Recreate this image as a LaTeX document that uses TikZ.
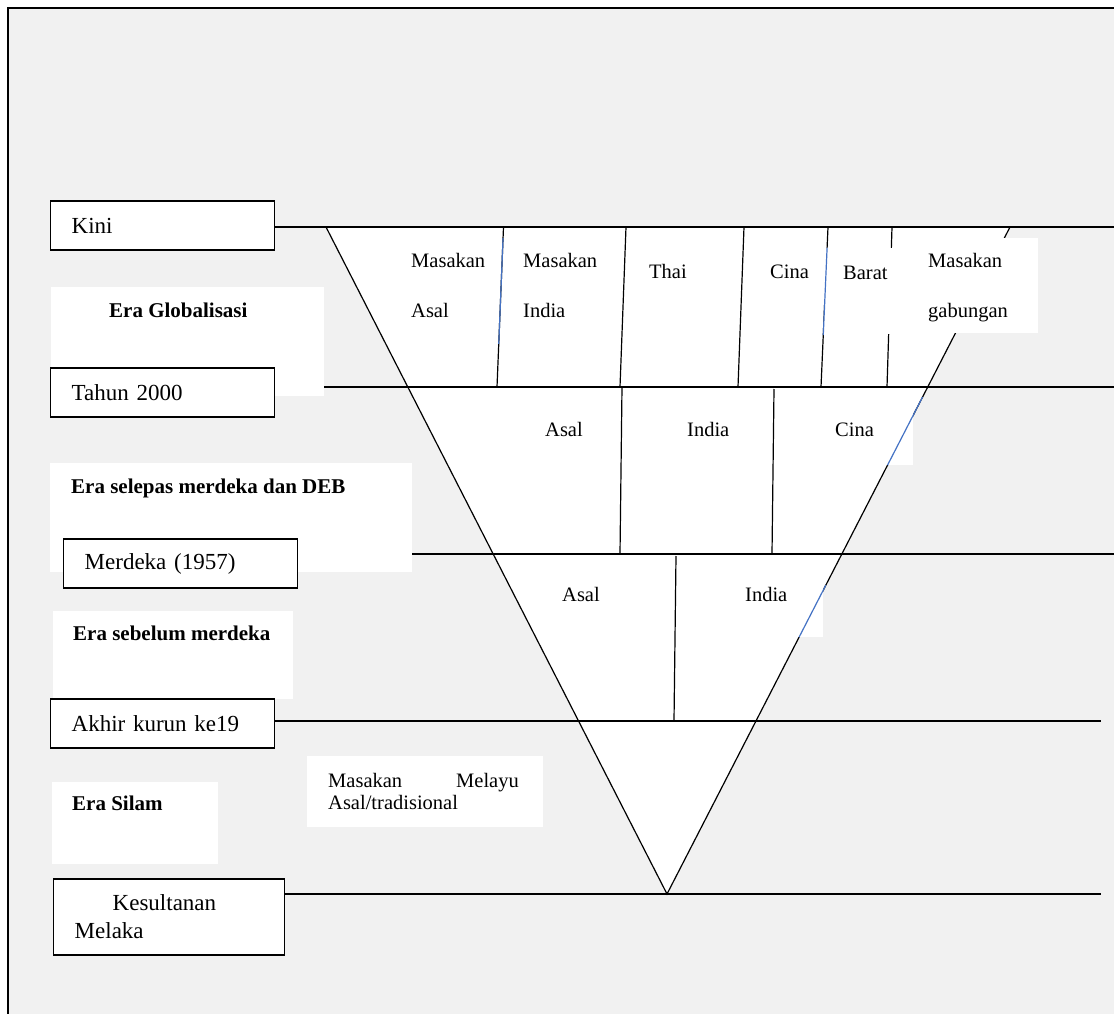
\documentclass[tikz,border=0pt]{standalone}
\usepackage{fontspec}
\setmainfont{Liberation Serif}
\usetikzlibrary{calc}
\definecolor{pagegray}{RGB}{241,241,241}
\definecolor{segblue}{RGB}{68,114,196}

\begin{document}
\begin{tikzpicture}[x=1pt, y=-1pt,
  lab/.style={draw, line width=1.4pt, fill=white, font=\fontsize{23}{28}\selectfont, align=left, inner xsep=21pt, inner ysep=0pt, minimum height=49pt, anchor=west},
  pad/.style={fill=white, inner sep=0pt, anchor=north west},
  era/.style={font=\fontsize{21}{25}\selectfont\bfseries, anchor=mid west, inner sep=0pt},
  txt/.style={font=\fontsize{20.5}{24}\selectfont, anchor=mid west, inner sep=0pt},
  hl/.style={line width=1.4pt},
  sl/.style={line width=1.2pt},
  bl/.style={line width=1.2pt, draw=segblue}]
  \useasboundingbox (0,0) rectangle (1114,1014);
  \fill[white] (0,0) rectangle (1114,1014);
  \fill[pagegray] (8,8) rectangle (1114,1014);
  \draw[line width=2pt] (8,1014) -- (8,8) -- (1114,8);
  \coordinate (tl) at (326,227);
  \coordinate (tr) at (1010,227);
  \coordinate (ap) at (667,894);
  \coordinate (y2) at (0,387);
  \coordinate (y3) at (0,554);
  \coordinate (y4) at (0,721);
  \coordinate (rx) at (1114,0);
  \coordinate (rs) at (1101,0);
  \filldraw[fill=white, sl] (tl) -- (ap) -- (tr);
  \coordinate (d1a) at (503.5,227); \coordinate (d1b) at (497,387);
  \coordinate (d2a) at (626,227);   \coordinate (d2b) at (620,387);
  \coordinate (d3a) at (744,227);   \coordinate (d3b) at (738,387);
  \coordinate (d4a) at (828,227);   \coordinate (d4b) at (821,387);
  \coordinate (d5a) at (892,227);   \coordinate (d5b) at (887,387);
  \coordinate (d6a) at (622,387);   \coordinate (d6b) at (620,554);
  \coordinate (d7a) at (774,389);   \coordinate (d7b) at (772,554);
  \coordinate (d8a) at (676,556);   \coordinate (d8b) at (674,721);
  \foreach \a/\b in {d1a/d1b, d2a/d2b, d3a/d3b, d4a/d4b, d5a/d5b, d6a/d6b, d7a/d7b, d8a/d8b}
    \draw[sl] (\a) -- (\b);
  \node[pad, minimum width=145pt, minimum height=95pt] (gabpad) at (893,238) {};
  \node[pad, minimum width=70pt, minimum height=86pt] (barpad) at (824,248) {};
  \node[pad, minimum width=73pt, minimum height=68pt] (cinapad) at (840,397) {};
  \node[pad, minimum width=33pt, minimum height=52pt] (indpad) at (790,585) {};
  \draw[bl] ($(d1a)!0.069!(d1b)$) -- ($(d1a)!0.731!(d1b)$);
  \draw[bl] ($(d4a)!0.131!(d4b)$) -- ($(d4a)!0.675!(d4b)$);
  \draw[bl] ($(tr)!0.255!(ap)$) -- ($(tr)!0.357!(ap)$);
  \draw[bl] ($(tr)!0.537!(ap)$) -- ($(tr)!0.615!(ap)$);
  \node[pad, minimum width=273pt, minimum height=109pt] (globpad) at (51,287) {};
  \node[pad, minimum width=362pt, minimum height=109pt] (selpad) at (50,463) {};
  \node[pad, minimum width=240pt, minimum height=88pt] (sebpad) at (53,611) {};
  \node[pad, minimum width=166pt, minimum height=82pt] (silpad) at (52,782) {};
  \node[pad, minimum width=236pt, minimum height=71pt] (melpad) at (307,756) {};
  \node[lab, text width=182pt] (kini) at (50,225.5) {Kini};
  \node[lab, text width=182pt] (tahun) at (50,392.5) {Tahun 2000};
  \node[lab, text width=192pt] (merdeka) at (63,563.5) {Merdeka (1957)};
  \node[lab, text width=182pt] (akhir) at (50,723.5) {Akhir kurun ke19};
  \node[lab, text width=189pt, minimum height=76pt] (kesultanan) at (53,917) {\hspace*{38pt}Kesultanan\\Melaka};
  \draw[hl] (kini.east |- tl) -- (rx |- tl);
  \draw[hl] (globpad.east |- y2) -- (rx |- y2);
  \draw[hl] (selpad.east |- y3) -- (rx |- y3);
  \draw[hl] (akhir.east |- y4) -- (rs |- y4);
  \draw[hl] (kesultanan.east |- ap) -- (rs |- ap);
  \node[era] (globtxt) at (109,315) {Era Globalisasi};
  \node[era] (seltxt) at (71,491) {Era selepas merdeka dan DEB};
  \node[era] (sebtxt) at (73,638) {Era sebelum merdeka};
  \node[era] (siltxt) at (72,808) {Era Silam};
  \node[txt] (asal1a) at (411,265) {Masakan};
  \node[txt] (asal1b) at (411,315) {Asal};
  \node[txt] (india1a) at (523,265) {Masakan};
  \node[txt] (india1b) at (523,315) {India};
  \node[txt] (thai1) at (649,276) {Thai};
  \node[txt] (cina1) at (770,276) {Cina};
  \node[txt] (barat1) at (843,277) {Barat};
  \node[txt] (gab1a) at (928,265) {Masakan};
  \node[txt] (gab1b) at (928,315) {gabungan};
  \node[txt] (asal2) at (545,434) {Asal};
  \node[txt] (india2) at (687,434) {India};
  \node[txt] (cina2) at (835,434) {Cina};
  \node[txt] (asal3) at (562,599) {Asal};
  \node[txt] (india3) at (745,599) {India};
  \node[txt] (mel4a) at (328,785) {Masakan};
  \node[txt] (mel4b) at (456,785) {Melayu};
  \node[txt] (mel4c) at (328,807) {Asal/tradisional};
\end{tikzpicture}
\end{document}
